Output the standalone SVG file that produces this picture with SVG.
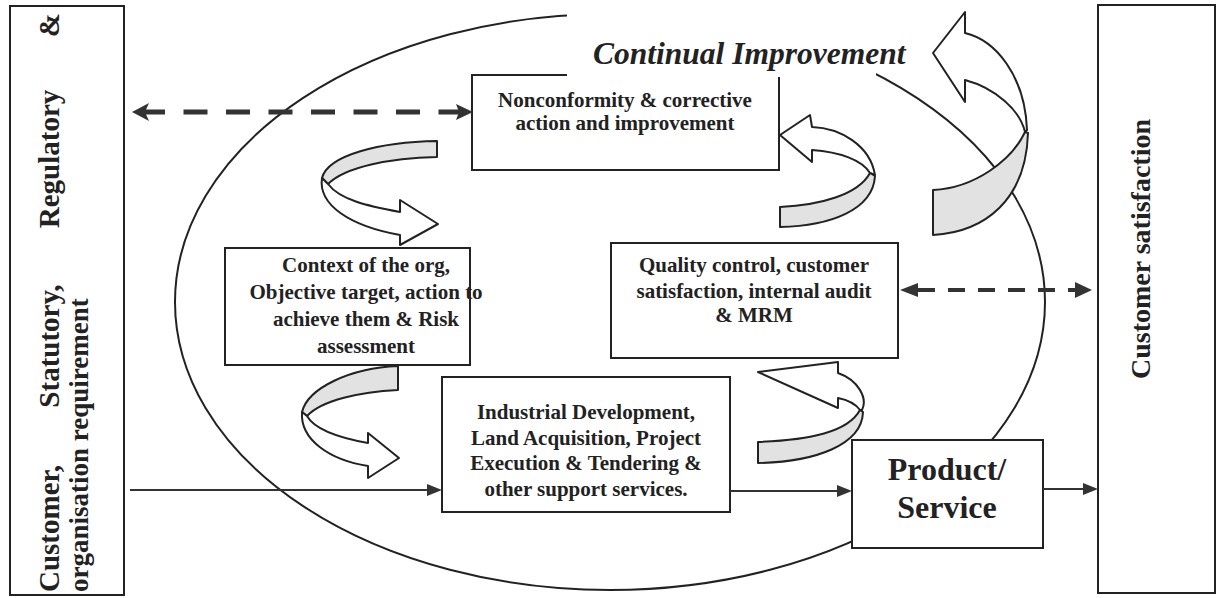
<svg xmlns="http://www.w3.org/2000/svg" width="1218" height="598" viewBox="0 0 1218 598">
<defs>
<style>
.box{fill:#fff;stroke:#222;stroke-width:2}
.t{font-family:"Liberation Serif","Times New Roman",serif;font-weight:bold;fill:#222;font-size:21px;text-anchor:middle}
.big{font-family:"Liberation Serif","Times New Roman",serif;font-weight:bold;fill:#222}
.ln{stroke:#333;stroke-width:2;fill:none}
.ah{fill:#333}
.rib{stroke:#222;stroke-width:2;stroke-linejoin:round}
.g{fill:#e2e2e2}
.w{fill:#fff}
</style>
</defs>
<rect width="1218" height="598" fill="#fff"/>
<ellipse id="cycle" cx="610" cy="302" rx="435" ry="288" fill="none" stroke="#222" stroke-width="2"/>
<g id="requirements">
<rect class="box" x="10" y="6" width="114" height="589"/>
<text class="big" font-size="29" transform="translate(59,592) rotate(-90)">Customer,</text>
<text class="big" font-size="29" text-anchor="middle" transform="translate(59,346) rotate(-90)">Statutory,</text>
<text class="big" font-size="29" text-anchor="middle" transform="translate(59,159) rotate(-90)">Regulatory</text>
<text class="big" font-size="29" text-anchor="end" transform="translate(59,13) rotate(-90)">&amp;</text>
<text class="big" font-size="27" transform="translate(88,592) rotate(-90)">organisation requirement</text>
</g>
<g id="satisfaction">
<rect class="box" x="1098" y="5" width="117" height="588"/>
<text class="big" font-size="28" text-anchor="middle" transform="translate(1150,249) rotate(-90)">Customer satisfaction</text>
</g>
<g id="nonconformity">
<rect class="box" x="472" y="75" width="307" height="95"/>
<text class="t" x="625" y="107">Nonconformity &amp; corrective</text>
<text class="t" x="625" y="130">action and improvement</text>
</g>
<g id="continual-improvement">
<rect x="567" y="0" width="309" height="77" fill="#fff"/>
<text class="big" x="593" y="64" font-size="31.5" font-style="italic">Continual Improvement</text>
</g>
<g id="context">
<rect class="box" x="225" y="248" width="245" height="117"/>
<text class="t" x="366" y="272">Context of the org,</text>
<text class="t" x="366" y="299">Objective target, action to</text>
<text class="t" x="366" y="326">achieve them &amp; Risk</text>
<text class="t" x="366" y="353">assessment</text>
</g>
<g id="quality">
<rect class="box" x="611" y="243" width="287" height="115"/>
<text class="t" x="754" y="272">Quality control, customer</text>
<text class="t" x="754" y="298">satisfaction, internal audit</text>
<text class="t" x="754" y="322">&amp; MRM</text>
</g>
<g id="industrial">
<rect class="box" x="442" y="377" width="288" height="135"/>
<text class="t" x="586" y="419">Industrial Development,</text>
<text class="t" x="586" y="445">Land Acquisition, Project</text>
<text class="t" x="586" y="470">Execution &amp; Tendering &amp;</text>
<text class="t" x="586" y="496">other support services.</text>
</g>
<g id="product">
<rect class="box" x="852" y="440" width="191" height="108"/>
<text class="big" font-size="32" text-anchor="middle" x="947" y="480">Product/</text>
<text class="big" font-size="32" text-anchor="middle" x="947" y="518">Service</text>
</g>
<g id="cycle-arrows" class="rib">
<path class="g" d="M437,141 C380,142 328,155 322,178 L328,184 C345,167 390,158 437,157 Z"/>
<path class="w" d="M322,178 C318,205 350,226 400,235 L400,245 L438,224 L400,200 L400,212 C368,206 340,200 328,184 Z"/>
<path class="g" d="M398,366 C350,368 308,388 302,412 L307,416 C322,400 360,392 398,390 Z"/>
<path class="w" d="M302,412 C300,440 330,460 368,466 L368,478 L399,458 L368,433 L368,443 C340,438 315,430 307,416 Z"/>
<path class="w" d="M780,135 L810,115 L812,127 C840,128 870,145 875,175 L870,173 C862,160 840,152 812,150 L812,162 Z"/>
<path class="g" d="M870,173 C858,195 820,205 780,207 L780,227 C830,226 873,210 875,176 Z"/>
<path class="w" d="M758,372 L838,362 L838,373 C858,380 868,398 862,410 L860,410 C855,403 848,400 838,398 L838,408 Z"/>
<path class="g" d="M860,410 C848,432 810,440 758,442 L758,463 C815,462 862,445 863,412 Z"/>
<path class="w" d="M933,53 L965,12 L965,33 C995,40 1025,75 1027,130 L1025,132 C1020,110 995,88 965,80 L965,102 Z"/>
<path class="g" d="M1025,132 C1012,160 975,188 933,190 L933,235 C985,232 1026,200 1028,133 Z"/>
</g>
<g id="connectors">
<line x1="141" y1="112" x2="462" y2="112" stroke="#333" stroke-width="5" stroke-dasharray="24 18.5"/>
<path class="ah" d="M132,112 L149,103 L145,112 L149,121 Z"/>
<path class="ah" d="M473,112 L456,104 L459,112 L456,120 Z"/>
<line x1="918" y1="290" x2="1076" y2="290" stroke="#333" stroke-width="4" stroke-dasharray="17 13"/>
<path class="ah" d="M900,290 L918,283 L918,297 Z"/>
<path class="ah" d="M1092,290 L1075,282 L1075,298 Z"/>
<line class="ln" x1="130" y1="490" x2="430" y2="490"/>
<path class="ah" d="M442,490 L427,484 L427,496 Z"/>
<line class="ln" x1="730" y1="491" x2="840" y2="491"/>
<path class="ah" d="M852,491 L837,485 L837,497 Z"/>
<line class="ln" x1="1043" y1="489" x2="1086" y2="489"/>
<path class="ah" d="M1098,489 L1083,483 L1083,495 Z"/>
</g>
</svg>
